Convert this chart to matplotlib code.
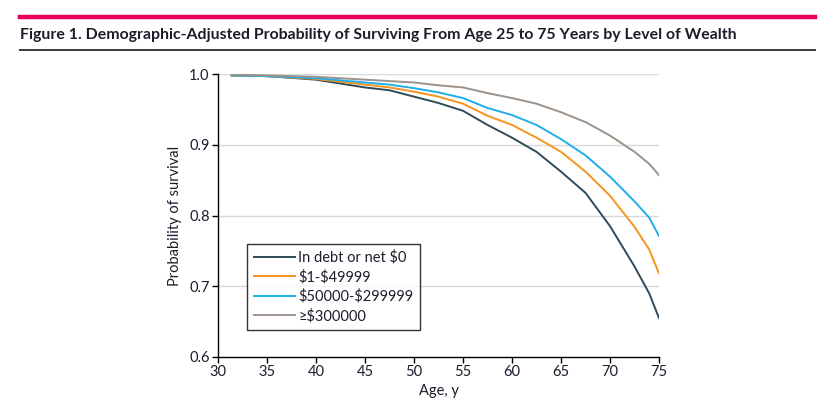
"""Survival probability from age 25 to 75 by level of wealth."""
import matplotlib.pyplot as plt
from matplotlib.lines import Line2D

# ages, shared by all four series
ages = [31.4, 35, 40, 45, 47.5, 50, 52.5, 55, 57.5, 60, 62.5, 65,
        67.5, 70, 72.5, 74, 75]

debt = [0.998, 0.997, 0.992, 0.981, 0.977, 0.968, 0.959, 0.948, 0.928,
        0.910, 0.890, 0.862, 0.832, 0.785, 0.728, 0.690, 0.655]
low = [0.998, 0.997, 0.993, 0.985, 0.981, 0.975, 0.968, 0.958, 0.941,
       0.928, 0.910, 0.890, 0.862, 0.828, 0.784, 0.752, 0.718]
mid = [0.998, 0.997, 0.994, 0.988, 0.985, 0.980, 0.974, 0.966, 0.952,
       0.942, 0.928, 0.908, 0.885, 0.855, 0.820, 0.797, 0.771]
high = [0.999, 0.998, 0.996, 0.992, 0.990, 0.988, 0.984, 0.981, 0.973,
        0.966, 0.958, 0.946, 0.932, 0.913, 0.890, 0.873, 0.857]

labels = ["In debt or net $0", "$1-$49999", "$50000-$299999", "≥$300000"]
colors = ["#2e4b5a", "#f7941d", "#1eaeea", "#9c928a"]

x_ticks = [30, 35, 40, 45, 50, 55, 60, 65, 70, 75]
y_ticks = [0.6, 0.7, 0.8, 0.9, 1.0]

TEXT = "#1c1c2c"
FONT = ["Lato", "DejaVu Sans"]


def main():
    plt.rcParams["font.family"] = FONT
    plt.rcParams["text.parse_math"] = False
    fig = plt.figure(figsize=(8.26, 4.08), dpi=100)

    # header rules and title
    fig.add_artist(Line2D([20 / 826, 815 / 826], [1 - 17 / 408] * 2,
                          color="#e8005a", lw=3.2))
    fig.add_artist(Line2D([20 / 826, 815 / 826], [1 - 50 / 408] * 2,
                          color="#3a3a3a", lw=1.4))
    fig.text(20 / 826, 1 - 35 / 408,
             "Figure 1. Demographic-Adjusted Probability of Surviving From "
             "Age 25 to 75 Years by Level of Wealth",
             fontsize=11.4, fontweight="bold", color=TEXT, va="center")

    ax = fig.add_axes([218 / 826, 0.125, (659 - 218) / 826, (357 - 74) / 408])
    for series, lab, col in zip([debt, low, mid, high], labels, colors):
        ax.plot(ages, series, color=col, lw=1.4, label=lab)

    ax.set_xlim(30, 75)
    ax.set_ylim(0.6, 1.0)
    ax.set_xticks(x_ticks)
    ax.set_yticks(y_ticks)
    ax.set_yticklabels([f"{v:.1f}" for v in y_ticks])
    for v in y_ticks[1:]:
        ax.axhline(v, color="#d9d9d9", lw=1.0, zorder=0)

    for side in ["top", "right"]:
        ax.spines[side].set_visible(False)
    for side in ["left", "bottom"]:
        ax.spines[side].set_linewidth(1.0)
        ax.spines[side].set_color("black")
    ax.tick_params(direction="out", length=4, width=1.0, labelsize=10.5,
                   labelcolor=TEXT, pad=2)

    ax.set_xlabel("Age, y", fontsize=10.5, color=TEXT, labelpad=3)
    ax.set_ylabel("Probability of survival", fontsize=10.5, color=TEXT,
                  labelpad=5)

    leg = ax.legend(loc="lower left", bbox_to_anchor=(0.066, 0.095),
                    fontsize=10.5, frameon=True, fancybox=False,
                    handlelength=2.8, handletextpad=0.25, borderpad=0.45,
                    labelspacing=0.35, borderaxespad=0)
    leg.get_frame().set_edgecolor("black")
    leg.get_frame().set_linewidth(1.0)
    for t in leg.get_texts():
        t.set_color(TEXT)

    fig.savefig("out.png", dpi=100)


if __name__ == "__main__":
    main()
